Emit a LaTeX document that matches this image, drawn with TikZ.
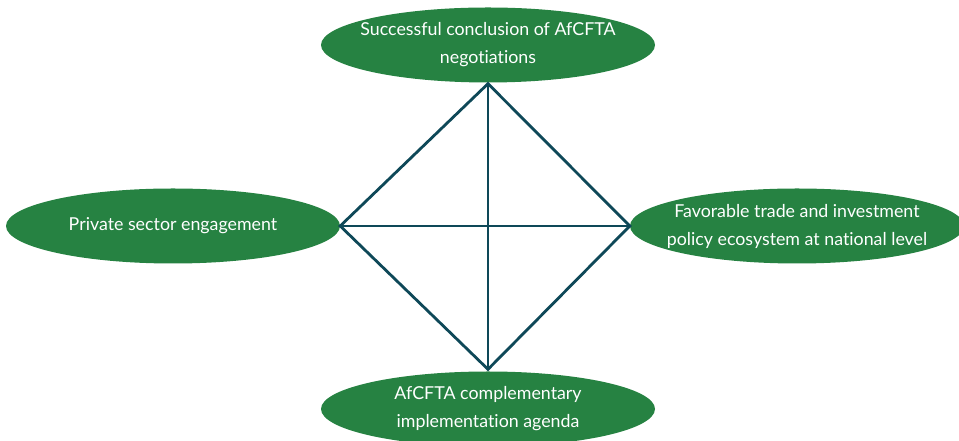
\documentclass[tikz,border=0pt]{standalone}
\usepackage{fontspec}
\setmainfont{Lato}[Ligatures={NoCommon}]
\usetikzlibrary{shapes.geometric}

\definecolor{pillarGreen}{RGB}{38,130,66}
\definecolor{linkTeal}{RGB}{14,72,88}

\begin{document}
\begin{tikzpicture}[x=1pt, y=1pt]

\def\rx{334pt}
\def\ry{75pt}

% ---------- style ----------
\tikzset{
  pillar/.style={
    ellipse,
    fill=pillarGreen,
    draw=none,
    minimum width=\rx,
    minimum height=\ry,
    inner sep=0pt
  },
  pillartext/.style={
    align=center,
    text=white,
    inner sep=0pt,
    font=\fontsize{17.8}{28}\selectfont
  },
  linkstyle/.style={
    draw=linkTeal,
    line width=2.8pt,
    line join=miter
  }
}

\useasboundingbox (0,0) rectangle (959,441);

% ---------- elipsy ----------
\node[pillar, label={[pillartext, name=TopText]center:{Successful conclusion of AfCFTA\\negotiations}}]
  (Top) at (488, 396) {};
\node[pillar, label={[pillartext, name=LeftText]center:{Private sector engagement}}]
  (Left) at (173, 215) {};
\node[pillar, label={[pillartext, name=RightText]center:{Favorable trade and investment\\policy ecosystem at national level}}]
  (Right) at (797, 215) {};
\node[pillar, label={[pillartext, name=BottomText]center:{AfCFTA complementary\\implementation agenda}}]
  (Bottom) at (488, 32) {};

% ---------- romb ----------
\coordinate (DTop)    at ([yshift=-1pt]Top.south);
\coordinate (DBottom) at ([yshift=2pt]Bottom.north);

\draw[linkstyle] (DTop) -- (Left.east) -- (DBottom) -- (Right.west) -- cycle;
\draw[linkstyle] (DTop) -- (DBottom);
\draw[linkstyle] (Left.east) -- (Right.west);

\end{tikzpicture}
\end{document}
